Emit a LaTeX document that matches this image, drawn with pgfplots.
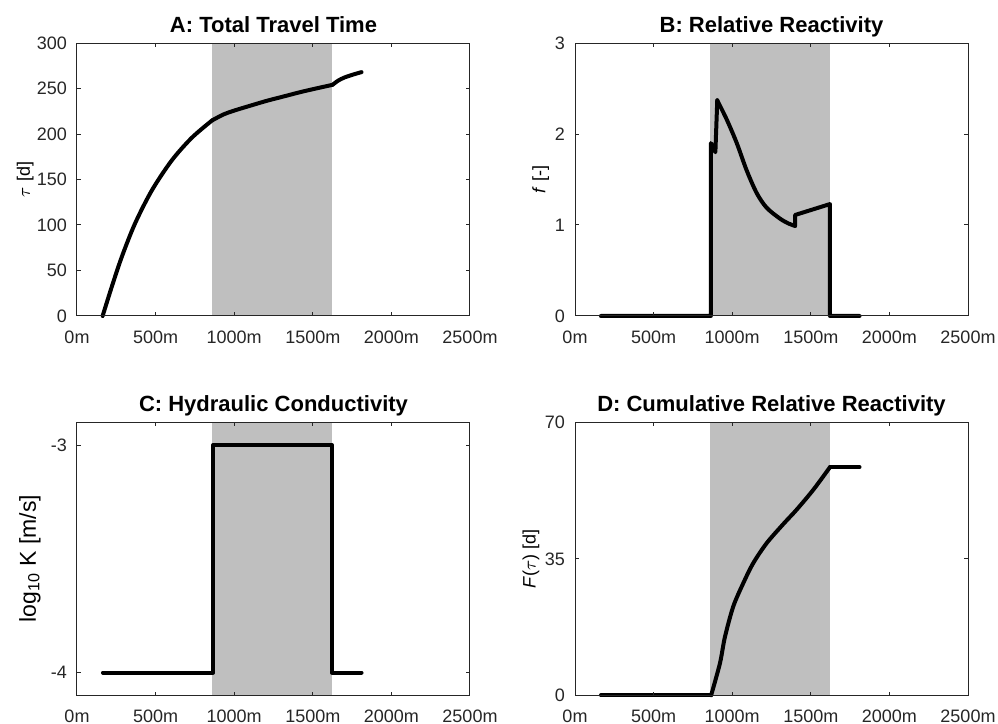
\documentclass[border=0pt]{standalone}
\usepackage{pgfplots}
\pgfplotsset{compat=1.18}
\usepackage{fontspec}
\setmainfont{Liberation Sans}
\definecolor{shade}{RGB}{191,191,191}
\definecolor{axc}{RGB}{38,38,38}
\pgfplotsset{
 myax/.style={
  scale only axis, width=196.5pt, height=136.5pt, anchor=south west,
  xmin=0, xmax=2500, xtick={0,500,1000,1500,2000,2500},
  xticklabels={0m,500m,1000m,1500m,2000m,2500m},
  tick align=inside, tick pos=both, major tick length=1.8pt,
  axis on top, axis line style={axc, line width=0.5pt},
  every tick/.style={axc, line width=0.5pt},
  tick label style={font=\fontsize{9}{10}\selectfont, text=axc},
  xticklabel style={yshift=-4pt},
  yticklabel style={xshift=-1.5pt},
  title style={font=\bfseries\fontsize{11}{13}\selectfont, at={(axis description cs:0.5,1)}, anchor=base, yshift=-0.8pt},
  ylabel style={font=\fontsize{9}{10}\selectfont, anchor=center, rotate=0},
  clip=false,
 },
 curve/.style={black, line width=2pt, line join=round, line cap=round},
}
\begin{document}
\begin{tikzpicture}
\useasboundingbox (0,0) rectangle (499pt,362pt);
% A
\begin{axis}[myax, at={(38.5pt,204pt)}, ymin=0, ymax=300,
  ytick={0,50,100,150,200,250,300}, yticklabels={0,50,100,150,200,250,300},
  title={A: Total Travel Time},
  ylabel={$\tau$ [d]}, ylabel style={at={(axis description cs:-0.132,0.5)}}]
\addplot[fill=shade, draw=none] coordinates {(860,0) (860,300) (1625,300) (1625,0)} -- cycle;
\addplot[curve, smooth, tension=0.5] coordinates {
(163,0) (221,32) (285,65) (369,101.6) (476,138) (603,171) (731,196) (860,215)};
\addplot[curve, smooth, tension=0.5] coordinates {
(860,215) (932,221.5) (996,225.5) (1100,231) (1208,236.5) (1320,241.5) (1420,246) (1520,250) (1625,254)};
\addplot[curve, smooth, tension=0.5] coordinates {
(1625,254) (1660,258.5) (1700,262) (1760,265.5) (1810,268)};
\end{axis}
% B
\begin{axis}[myax, at={(287.5pt,204pt)}, ymin=0, ymax=3,
  ytick={0,1,2,3}, yticklabels={0,1,2,3},
  title={B: Relative Reactivity},
  ylabel={\textit{f} [-]}, ylabel style={at={(axis description cs:-0.087,0.5)}}]
\addplot[fill=shade, draw=none] coordinates {(860,0) (860,3) (1625,3) (1625,0)} -- cycle;
\addplot[curve] coordinates {(165,0) (864,0) (864,1.90) (893,1.80) (905,2.37)};
\addplot[curve, smooth, tension=0.5] coordinates {
(905,2.37) (965,2.16) (1029,1.90) (1092,1.60) (1156,1.35) (1219,1.19) (1304,1.07) (1360,1.015) (1400,0.99)};
\addplot[curve] coordinates {(1400,0.99) (1400,1.11) (1622,1.23) (1622,0) (1810,0)};
\end{axis}
% C
\begin{axis}[myax, at={(38.5pt,14.35pt)}, ymin=-4.1, ymax=-2.9,
  ytick={-4,-3}, yticklabels={-4,-3},
  title={C: Hydraulic Conductivity},
  ylabel={log\textsubscript{10} K [m/s]}, ylabel style={font=\fontsize{11.5}{13}\selectfont, at={(axis description cs:-0.12,0.5)}}]
\addplot[fill=shade, draw=none] coordinates {(860,-4.1) (860,-2.9) (1625,-2.9) (1625,-4.1)} -- cycle;
\addplot[curve] coordinates {(165,-4) (865,-4) (865,-3) (1622,-3) (1622,-4) (1810,-4)};
\end{axis}
% D
\begin{axis}[myax, at={(287.5pt,14.35pt)}, ymin=0, ymax=70,
  ytick={0,35,70}, yticklabels={0,35,70},
  title={D: Cumulative Relative Reactivity},
  ylabel={\textit{F}($\tau$) [d]}, ylabel style={at={(axis description cs:-0.112,0.5)}}]
\addplot[fill=shade, draw=none] coordinates {(860,0) (860,70) (1625,70) (1625,0)} -- cycle;
\addplot[curve] coordinates {(165,0) (866,0)};
\addplot[curve, smooth, tension=0.5] coordinates {
(866,0) (922,8.2) (954,15.0) (1007,22.8) (1071,28.8) (1134,33.9) (1219,39.0) (1325,43.9) (1410,47.6) (1516,52.7) (1622,58.5)};
\addplot[curve] coordinates {(1622,58.5) (1810,58.5)};
\end{axis}
\end{tikzpicture}
\end{document}
